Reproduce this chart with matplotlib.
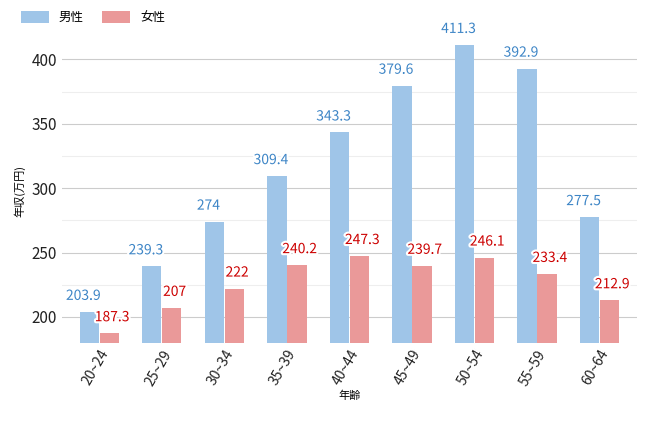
import matplotlib
matplotlib.use("Agg")
import matplotlib.pyplot as plt
import matplotlib.patheffects as pe
import numpy as np

plt.rcParams['font.family'] = ['Noto Sans CJK JP']

categories = ["20~24","25~29","30~34","35~39","40~44","45~49","50~54","55~59","60~64"]
male = [203.9, 239.3, 274, 309.4, 343.3, 379.6, 411.3, 392.9, 277.5]
female = [187.3, 207, 222, 240.2, 247.3, 239.7, 246.1, 233.4, 212.9]

fig = plt.figure(figsize=(6.5, 4.23), dpi=100)
ax = fig.add_axes([0.095, 0.19, 0.885, 0.715])
x = np.arange(len(categories))
w = 0.31
mc, fc = "#9fc5e8", "#ea9999"
ax.bar(x - w/2 - 0.005, male, w, color=mc, label="男性", zorder=3)
ax.bar(x + w/2 + 0.005, female, w, color=fc, label="女性", zorder=3)
stroke = [pe.withStroke(linewidth=3, foreground="white")]
for i in range(len(x)):
    ax.text(x[i] - w/2 - 0.1, male[i] + 7, f"{male[i]:g}", color="#3d85c6", ha="center", va="bottom", fontsize=10, path_effects=stroke, zorder=4)
    ax.text(x[i] + w/2 + 0.05, female[i] + 7, f"{female[i]:g}", color="#cc0000", ha="center", va="bottom", fontsize=10, path_effects=stroke, zorder=4)
ax.set_ylim(180, 415)
ax.set_xlim(-0.6, len(x) - 0.4)
ax.set_yticks([200, 250, 300, 350, 400])
ax.set_yticks([225, 275, 325, 375], minor=True)
ax.grid(axis="y", which="major", color="#cccccc", lw=0.8, zorder=0)
ax.grid(axis="y", which="minor", color="#eeeeee", lw=0.8, zorder=0)
ax.tick_params(axis="y", which="both", length=0, labelsize=11, colors="#222222")
ax.tick_params(axis="x", length=0, labelsize=10, colors="#222222")
ax.set_xticks(x)
ax.set_xticklabels(categories, rotation=60, ha="right", rotation_mode="anchor")
for s in ax.spines.values():
    s.set_visible(False)
ax.set_ylabel("年収(万円)", fontsize=8, style="italic")
ax.set_xlabel("年齢", fontsize=8, style="italic", labelpad=2)
ax.legend(loc="upper left", bbox_to_anchor=(-0.09, 1.135), ncol=2, frameon=False, fontsize=9,
          handlelength=2.2, handleheight=1.1, columnspacing=1.5)
fig.savefig("out.png", dpi=100)
